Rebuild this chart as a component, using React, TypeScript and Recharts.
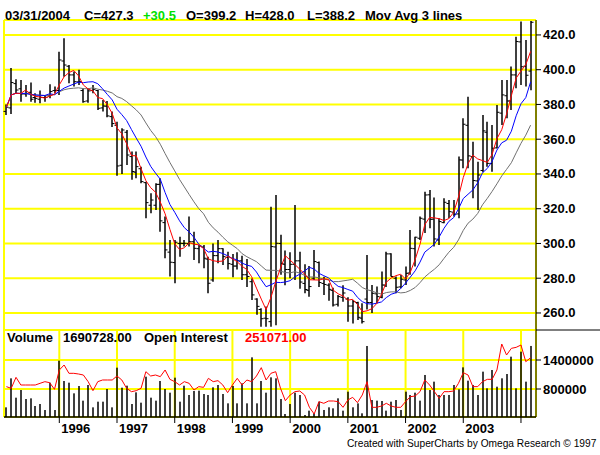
import React from 'react';
import { ComposedChart, Bar, Line, XAxis, YAxis, CartesianGrid } from 'recharts';

// monthly bars, Feb 1995 .. Mar 2004
const opens = [
  376, 378, 392, 389, 386, 387, 384, 383, 384, 385, 388,
  388, 405, 402, 397, 393, 388, 382, 388, 388, 378, 379, 373,
  368, 345, 364, 350, 341, 343, 335, 322, 322, 334, 312, 295,
  289, 300, 300, 300, 301, 297, 298, 291, 279, 293, 297, 292,
  288, 287, 290, 282, 278, 268, 262, 257, 255, 298, 300, 288,
  285, 288, 290, 277, 273, 280, 289, 277, 276, 273, 265, 269,
  268, 264, 266, 257, 268, 266, 271, 269, 276, 294, 280, 275,
  279, 283, 297, 303, 314, 328, 314, 302, 312, 323, 318, 317,
  348, 368, 350, 336, 342, 364, 346, 355, 375, 385, 382, 397,
  416, 402, 399.2,
];
const highs = [
  380, 401, 394.5, 394, 391.2, 392.7, 386.4, 388, 385.5, 391.6, 390.3,
  410.4, 418.1, 402.7, 398.9, 399.9, 389.3, 389.3, 391.2, 388.3, 382.6, 382, 376,
  370, 366.3, 365.3, 352.9, 352.9, 344.2, 335.5, 328.9, 334.6, 337.5, 315.5, 302,
  302, 303.9, 302, 315.5, 306.8, 299.1, 299.1, 292.4, 300, 302, 297.2, 295.3,
  294, 295, 293, 291, 279.9, 268.5, 262.7, 263.7, 321.2, 327.9, 305, 296,
  295, 322.2, 295.3, 288, 287, 296.3, 289.6, 280.9, 277.1, 274.5, 270.4, 276,
  269, 267.5, 266.5, 265.6, 293.4, 276.1, 275.2, 283.8, 295.3, 294.4, 281, 281.9,
  286.7, 307.8, 303.9, 315.5, 329.8, 330.8, 326.4, 314.5, 326, 325, 325, 350,
  372, 384.5, 358.6, 347, 374, 370.1, 368.2, 379.7, 394.1, 394.1, 401.8, 419,
  427.7, 417.1, 428.0,
];
const lows = [
  374, 374.5, 386, 381.6, 384.5, 381.6, 381, 380.7, 381.6, 383.5, 386.4,
  385.5, 396, 392.2, 390.3, 391.2, 381, 381, 386.4, 376.8, 375.9, 372.6, 367,
  339, 340, 345.2, 336.6, 337.5, 334.6, 314.5, 317.4, 319.3, 306.8, 291.5, 281,
  277.1, 292.4, 298.2, 298.2, 290.5, 288.6, 285.7, 271.3, 278, 288.6, 287.6, 285,
  280.5, 285, 279, 275, 267.5, 259, 252.1, 252.1, 252.1, 253, 282, 276,
  280, 279, 274, 271.3, 269.4, 279, 275, 270.4, 267, 263.7, 263.7, 266.5,
  255, 254, 256, 254, 262, 260, 265.6, 268.5, 275, 281, 271.3, 274.2,
  276.1, 282, 286.7, 302, 306, 308.7, 298.2, 299.1, 311.6, 314.5, 315.5, 314.5,
  343.3, 343.3, 326, 319.3, 341, 344.2, 341.3, 354.8, 368.2, 372, 376.8, 389.3,
  391.2, 390.3, 388.2,
];
const closes = [
  378.4, 392.6, 388.3, 386, 386.4, 383, 383.5, 384.1, 384.1, 387.4, 388,
  405.6, 402.7, 397, 393.1, 393.1, 381.6, 387.8, 388.7, 377.8, 379.1, 373.4, 369,
  344.6, 365.3, 350.9, 341.4, 344.2, 335.6, 323.5, 325, 334, 313, 296.3, 289.2,
  300.7, 300.1, 300.1, 301, 297.2, 298.6, 291.5, 277.1, 293, 297, 292.4, 288.4,
  287, 290, 282, 281, 270.4, 263.8, 256.7, 256.7, 298.2, 300.1, 288.5, 285,
  288, 290, 277.8, 273.5, 275.2, 289.6, 277.5, 276.4, 273.6, 264.6, 269.4, 271.5,
  264, 266.5, 257.5, 255, 266, 271.3, 269.4, 276.1, 294, 281, 274.8, 279.4,
  282.8, 297.2, 303.6, 314.5, 327.9, 313.9, 302.6, 312.6, 323.7, 318.3, 316.8, 348.1,
  368.6, 350.4, 336.2, 339.4, 364.8, 346.1, 354.8, 375.5, 385.5, 382, 397, 416.2,
  401.7, 396.8, 427.3,
];
const volumes = [
  420600, 1020600, 620600, 779200, 593000, 606800, 448200, 489600, 365400, 931000, 365400,
  1386200, 965500, 931000, 710300, 862000, 558500, 882700, 420600, 537900, 537900, 800000, 420600,
  1241300, 827500, 868900, 489600, 731000, 517200, 1055100, 620600, 558500, 965500, 800000, 724100,
  1034400, 537900, 868900, 675800, 758600, 765500, 696500, 675800, 834400, 882700, 696500, 503400,
  862000, 503400, 917200, 503400, 1455100, 503400, 965500, 724100, 1041300, 1020600, 593000, 282700,
  489600, 724100, 675800, 262000, 352000, 297000, 538000, 366000, 421000, 400000, 607000, 352000,
  745000, 421000, 503000, 297000, 1690000, 572000, 559000, 552000, 352000, 538000, 572000, 366000,
  745000, 676000, 724000, 559000, 1090000, 779000, 952000, 676000, 676000, 676000, 883000, 793000,
  1248000, 972000, 883000, 676000, 1159000, 814000, 1193000, 848000, 1021000, 1110000, 1469000, 814000,
  1572000, 952000, 1690728,
];
const openInterest = [
  152900, 147200, 184500, 158500, 158500, 158500, 158500, 164200, 169800, 166400, 143800,
  209400, 226300, 198100, 198100, 195800, 192400, 169800, 139300, 169800, 175500, 175500, 175500,
  189000, 175500, 147200, 135900, 139300, 147200, 203700, 189000, 192400, 186800, 209400, 177700,
  169800, 158500, 169800, 164200, 141500, 152900, 150600, 181100, 169800, 173200, 158500, 132500,
  158500, 181100, 158500, 175500, 169800, 189000, 217300, 175500, 198100, 203700, 147200, 105400,
  124600, 135900, 138200, 124600, 82800, 60200, 102000, 96400, 104300, 104300, 102000, 82800,
  107600, 116700, 98600, 124600, 169800, 82800, 82800, 87300, 96400, 87300, 82800, 82800,
  102000, 118900, 121200, 135900, 175500, 158500, 135900, 113300, 135900, 135900, 138200, 164200,
  200300, 192400, 152900, 152900, 169800, 177700, 177700, 209400, 297500, 260200, 282800, 286200,
  294100, 237600, 251071,
];
const priceTicks = [260, 280, 300, 320, 340, 360, 380, 400, 420];
const volumeTicks = [800000, 1400000];
const lastDate = '03/31/2004';

const FONT = "'Liberation Sans', Arial, Helvetica, sans-serif";
const YELLOW = '#FFFF00';

const months = closes.map((_, i) => {
  const m = (1 + i) % 12;
  const y = 1995 + Math.floor((1 + i) / 12);
  return `${y}-${String(m + 1).padStart(2, '0')}`;
});
const janLabels = months.filter(m => m.endsWith('-01'));

const sma = (vals: number[], n: number) =>
  vals.map((_, i) => {
    const s = vals.slice(Math.max(0, i - n + 1), i + 1);
    return s.reduce((a, b) => a + b, 0) / s.length;
  });

const ma4 = sma(closes, 4);
const ma9 = sma(closes, 9);
const ma18 = sma(closes, 18);

const data = months.map((label, i) => ({
  label,
  o: opens[i],
  h: highs[i],
  l: lows[i],
  c: closes[i],
  ma4: ma4[i],
  ma9: ma9[i],
  ma18: ma18[i],
  vol: volumes[i],
  oi: openInterest[i],
}));

const OhlcShape = (props: any) => {
  const { x, y, width, height, payload } = props;
  const cx = Math.round(x + width / 2);
  const span = payload.h - payload.l || 1;
  const yOf = (v: number) => y + ((payload.h - v) / span) * height;
  return (
    <g stroke="#000">
      <line x1={cx} x2={cx} y1={y} y2={y + height} strokeWidth={1.5} />
      <line x1={cx - 2.5} x2={cx} y1={yOf(payload.o)} y2={yOf(payload.o)} strokeWidth={1} />
      <line x1={cx} x2={cx + 2.5} y1={yOf(payload.c)} y2={yOf(payload.c)} strokeWidth={1} />
    </g>
  );
};

const VolShape = (props: any) => {
  const { x, y, width, height } = props;
  const cx = Math.round(x + width / 2);
  return <rect x={cx - 0.75} y={y} width={1.5} height={Math.max(height, 0)} fill="#000" />;
};

const PriceTick = ({ x, y, payload }: any) => (
  <text x={x} y={y + 4.5} fontFamily={FONT} fontWeight="bold" fontSize={13} fill="#000" textAnchor="start">
    {Number(payload.value).toFixed(1)}
  </text>
);

const VolTick = ({ x, y, payload }: any) => (
  <text x={x} y={y + 4.5} fontFamily={FONT} fontWeight="bold" fontSize={13} fill="#000" textAnchor="start">
    {Number(payload.value).toFixed(0)}
  </text>
);

const YearTick = ({ x, y, payload }: any) => {
  const year = String(payload.value).slice(0, 4);
  if (year === '2004') return null;
  return (
    <text x={x + 2} y={y + 8} fontFamily={FONT} fontWeight="bold" fontSize={13} fill="#000" textAnchor="start">
      {year}
    </text>
  );
};

const App: React.FC = () => {
  const last = data.length - 1;
  const change = closes[last] - closes[last - 1];
  const bold = { fontFamily: FONT, fontWeight: 'bold' as const, fontSize: 13 };

  return (
    <div style={{ position: 'absolute', left: 0, top: 0, width: 600, height: 455, background: '#fff', overflow: 'hidden' }}>
      <div style={{ position: 'absolute', left: 0, top: 0 }}>
        <ComposedChart width={600} height={330} data={data} margin={{ top: 20, right: 0, bottom: 0, left: 4 }}>
          <CartesianGrid stroke={YELLOW} strokeWidth={2} />
          <XAxis dataKey="label" ticks={janLabels} interval={0} height={0} tick={false} axisLine={false} tickLine={false} padding={{ left: 0, right: 3 }} />
          <YAxis
            orientation="right"
            width={64}
            domain={[250.2, 428.6]}
            allowDataOverflow
            ticks={priceTicks}
            interval={0}
            axisLine={{ stroke: '#000' }}
            tickLine={{ stroke: '#000' }}
            tickSize={5}
            tickMargin={2}
            tick={<PriceTick />}
          />
          <Bar dataKey={(d: any) => [d.l, d.h]} shape={<OhlcShape />} isAnimationActive={false} />
          <Line dataKey="ma18" stroke="#707070" strokeWidth={1} dot={false} activeDot={false} isAnimationActive={false} />
          <Line dataKey="ma9" stroke="#0000FF" strokeWidth={1} dot={false} activeDot={false} isAnimationActive={false} />
          <Line dataKey="ma4" stroke="#FF0000" strokeWidth={1} dot={false} activeDot={false} isAnimationActive={false} />
        </ComposedChart>
      </div>
      <div style={{ position: 'absolute', left: 0, top: 330 }}>
        <ComposedChart width={600} height={125} data={data} margin={{ top: 0, right: 0, bottom: 8, left: 4 }}>
          <CartesianGrid yAxisId="vol" stroke={YELLOW} strokeWidth={2} />
          <XAxis
            dataKey="label"
            ticks={janLabels}
            interval={0}
            height={30}
            axisLine={{ stroke: '#000', strokeWidth: 1.5 }}
            tickLine={{ stroke: '#000' }}
            tickSize={6}
            tickMargin={2}
            tick={<YearTick />}
            padding={{ left: 0, right: 3 }}
          />
          <YAxis yAxisId="oi" orientation="left" hide width={0} domain={[50000, 345000]} />
          <YAxis
            yAxisId="vol"
            orientation="right"
            width={64}
            domain={[220700, 2020700]}
            allowDataOverflow
            ticks={volumeTicks}
            interval={0}
            axisLine={{ stroke: '#000' }}
            tickLine={{ stroke: '#000' }}
            tickSize={5}
            tickMargin={2}
            tick={<VolTick />}
          />
          <Bar yAxisId="vol" dataKey="vol" shape={<VolShape />} isAnimationActive={false} />
          <Line yAxisId="oi" dataKey="oi" stroke="#FF0000" strokeWidth={1} dot={false} activeDot={false} isAnimationActive={false} />
        </ComposedChart>
      </div>
      <svg width={600} height={455} style={{ position: 'absolute', left: 0, top: 0, pointerEvents: 'none' }}>
        <g {...bold} fill="#000">
          <text x={5} y={20}>{lastDate}</text>
          <text x={84} y={20}>{`C=${closes[last].toFixed(1)}`}</text>
          <text x={143} y={20} fill="#00E000">{`${change >= 0 ? '+' : ''}${change.toFixed(1)}`}</text>
          <text x={186} y={20}>{`O=${opens[last].toFixed(1)}`}</text>
          <text x={245} y={20}>{`H=${highs[last].toFixed(1)}`}</text>
          <text x={307} y={20}>{`L=${lows[last].toFixed(1)}`}</text>
          <text x={365} y={20}>Mov Avg 3 lines</text>
          <text x={7} y={342}>Volume</text>
          <text x={63} y={342}>{volumes[last].toFixed(2)}</text>
          <text x={144} y={342}>Open Interest</text>
          <text x={245} y={342} fill="#FF0000">{openInterest[last].toFixed(2)}</text>
        </g>
        <line x1={536} x2={600} y1={330} y2={330} stroke="#000" />
        <text x={347} y={447} fontFamily={FONT} fontSize={10.2} fill="#000">
          Created with SuperCharts by Omega Research © 1997
        </text>
      </svg>
    </div>
  );
};

export default App;
